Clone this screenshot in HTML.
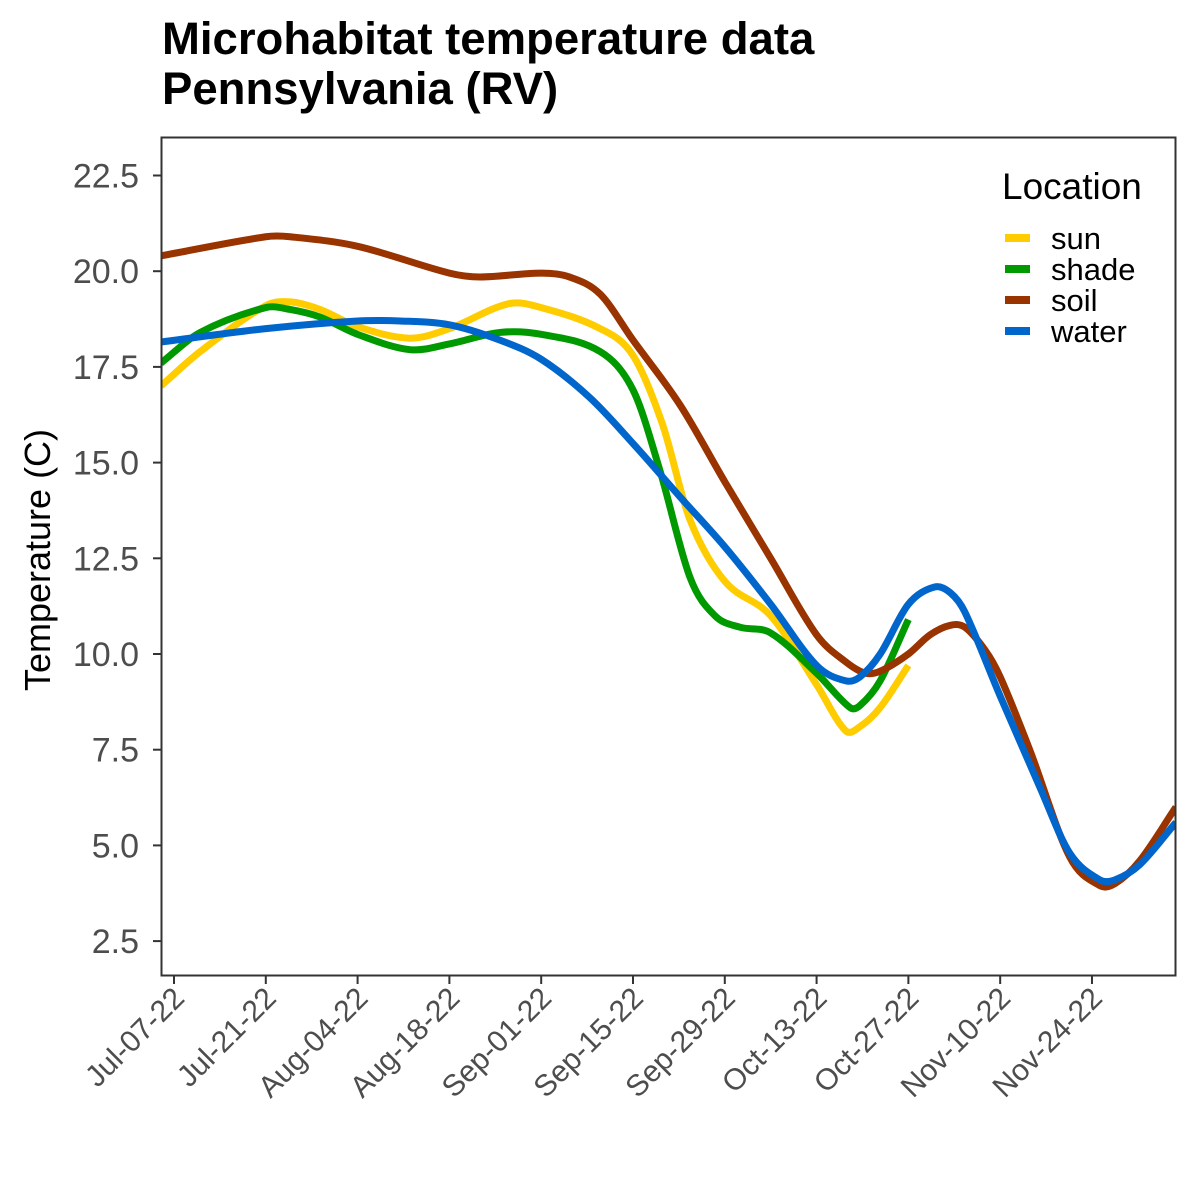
<!DOCTYPE html>
<html><head><meta charset="utf-8"><style>
html,body{margin:0;padding:0;background:#fff;overflow:hidden}
svg{display:block}
svg text{font-family:"Liberation Sans",Arial,sans-serif}
</style></head><body>
<svg id="chart" width="1200" height="1200" xmlns="http://www.w3.org/2000/svg">
<rect width="1200" height="1200" fill="#fff"/>
<text x="162" y="54" font-size="45.5" font-weight="bold">Microhabitat temperature data</text>
<text x="162" y="104" font-size="45.5" font-weight="bold">Pennsylvania (RV)</text>
<text transform="translate(50,560) rotate(-90)" text-anchor="middle" font-size="36">Temperature (C)</text>
<g id="grid"></g>
<g id="series"></g>
<rect x="161.5" y="137.5" width="1014" height="838" fill="none" stroke="#333" stroke-width="2"/>
<g>
<text x="1002" y="199" font-size="37">Location</text>
<g id="legend"></g>
</g>
</svg>
<script>
const tickDates=["Jul-07-22","Jul-21-22","Aug-04-22","Aug-18-22","Sep-01-22","Sep-15-22","Sep-29-22","Oct-13-22","Oct-27-22","Nov-10-22","Nov-24-22"];
const tickDays=[0,14,28,42,56,70,84,98,112,126,140];
const yTicks=[2.5,5.0,7.5,10.0,12.5,15.0,17.5,20.0,22.5];
const seriesNames=["sun","shade","soil","water"];
const seriesColors=["#FFCC00","#009900","#993300","#0066CC"];
const sunDays=[-2,4,14,17.7,22.3,28,36,42,51,56,65,70,74.5,78.7,84,91,98,102.4,104.6,107.7,112];
const sunVals=[17.0,17.9,19.1,19.2,19.0,18.55,18.25,18.5,19.15,19.05,18.5,17.8,16.0,13.5,11.9,11.0,9.2,8.0,8.1,8.6,9.7];
const shadeDays=[-2,4,14,17.7,22.3,28,36,42,49.7,56,65,70,74.1,78.7,82.5,86.3,91,98,103.1,104.6,107.7,112];
const shadeVals=[17.6,18.4,19.05,19.0,18.8,18.35,17.95,18.1,18.4,18.35,17.9,16.9,14.8,12.0,11.0,10.7,10.55,9.5,8.6,8.65,9.3,10.9];
const soilDays=[-2,14,17.7,28,42,46.7,56,60.3,65,70,77.2,84,91,98,102.4,105.4,107.7,112,115.3,118.4,120.6,123.7,126,130.5,136.6,141.2,143.5,147.3,152.8];
const soilVals=[20.4,20.9,20.9,20.65,19.95,19.85,19.95,19.85,19.4,18.2,16.5,14.5,12.5,10.5,9.8,9.5,9.55,10.0,10.5,10.75,10.7,10.1,9.4,7.5,4.7,3.95,4.0,4.6,6.0];
const waterDays=[-2,14,28,34.5,42,49.7,56,63.4,70,77.2,84,91,98,102.4,104.6,107.7,112,116,118.4,120.6,126,132.1,136.6,141.2,143.5,147.3,152.8];
const waterVals=[18.15,18.5,18.7,18.7,18.6,18.2,17.7,16.7,15.5,14.1,12.8,11.3,9.7,9.3,9.4,10.0,11.3,11.75,11.6,11.1,8.9,6.5,4.8,4.1,4.1,4.5,5.6];
const allDays=[sunDays,shadeDays,soilDays,waterDays];
const allVals=[sunVals,shadeVals,soilVals,waterVals];

const NS="http://www.w3.org/2000/svg";
function xS(d){return 174+d*6.557;}
function yS(v){return 654-(v-10)*38.28;}
function mk(tag,attrs,parent){const e=document.createElementNS(NS,tag);for(const k in attrs)e.setAttribute(k,attrs[k]);parent.appendChild(e);return e;}
const grid=document.getElementById('grid');
yTicks.forEach(v=>{
  const y=yS(v);
  const t=mk('line',{x1:153,x2:161,y1:y,y2:y,stroke:'#333','stroke-width':2},grid);
  
  
  const l=mk('text',{x:139,y:y+12,'text-anchor':'end','font-size':34,fill:'#4d4d4d'},grid);
  l.textContent=v.toFixed(1);
  
  
});
tickDays.forEach((d,i)=>{
  const x=xS(d);
  const t=mk('line',{x1:x,x2:x,y1:976,y2:984,stroke:'#333','stroke-width':2},grid);
  
  
  const l=mk('text',{transform:`translate(${x+12},${1000}) rotate(-45)`,'text-anchor':'end','font-size':30,fill:'#4d4d4d'},grid);
  l.textContent=tickDates[i];
  
  
});
function smoothPath(pts){
  const n=pts.length,m=[];
  for(let i=0;i<n;i++){
    const a=pts[Math.max(i-1,0)],b=pts[Math.min(i+1,n-1)];
    m.push((b[1]-a[1])/(b[0]-a[0]));
  }
  let d=`M${pts[0][0]},${pts[0][1]}`;
  for(let i=0;i<n-1;i++){
    const p1=pts[i],p2=pts[i+1],h=(p2[0]-p1[0])/3;
    d+=`C${p1[0]+h},${p1[1]+m[i]*h} ${p2[0]-h},${p2[1]-m[i+1]*h} ${p2[0]},${p2[1]}`;
  }
  return d;
}
const sg=document.getElementById('series');
mk('clipPath',{id:'clip'},sg);
mk('rect',{x:162,y:138,width:1013,height:837},sg.lastChild);
[0,1,2,3].forEach(i=>{
  const pts=allDays[i].map((d,j)=>[xS(d),yS(allVals[i][j])]);
  const p=mk('path',{d:smoothPath(pts),fill:'none',stroke:seriesColors[i],'stroke-width':7,'clip-path':'url(#clip)','stroke-linejoin':'round'},sg);
  
  
});
const lg=document.getElementById('legend');
seriesNames.forEach((n,i)=>{
  const y=238+i*31;
  const k=mk('rect',{x:1005,y:y-4,width:25,height:8,fill:seriesColors[i]},lg);
  
  
  const t=mk('text',{x:1051,y:y+11,'font-size':31},lg);
  t.textContent=n;
  
  
});
</script>
</body></html>
